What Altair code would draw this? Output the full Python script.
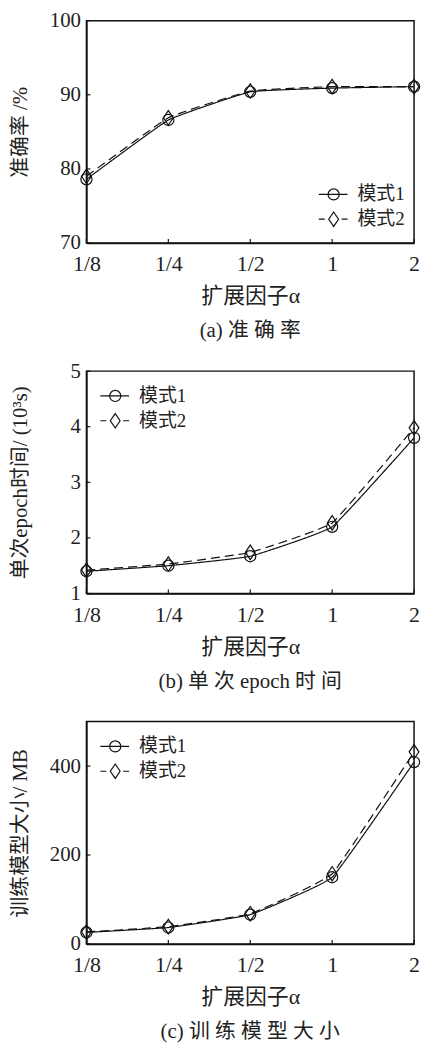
import altair as alt
import pandas as pd

# ---------------- data ----------------
alphas = ["1/8", "1/4", "1/2", "1", "2"]
modes = ["模式1", "模式2"]

acc_m1 = [78.6, 86.6, 90.4, 90.9, 91.1]
acc_m2 = [79.0, 86.9, 90.5, 91.1, 91.1]

time_m1 = [1.40, 1.50, 1.67, 2.20, 3.80]
time_m2 = [1.42, 1.53, 1.74, 2.27, 3.98]

size_m1 = [26, 37, 66, 150, 409]
size_m2 = [27, 39, 68, 158, 432]

# ---------------- style ----------------
SERIF = "Liberation Serif, Noto Sans CJK SC"
W, H = 330, 224
BLACK = "#111111"
TXT = "#222222"
DIAMOND = "M0,-1.3L0.88,0L0,1.3L-0.88,0Z"
MSIZE = 125
LW = 1.2


def panel(m1, m2, ydom, yticks, ytitle, caption, legend_xy, pad_top=False):
    df = pd.DataFrame({
        "alpha": alphas * 2,
        "mode": [modes[0]] * len(alphas) + [modes[1]] * len(alphas),
        "value": list(m1) + list(m2),
    })
    x = alt.X("alpha:O", sort=alphas,
              scale=alt.Scale(type="point", padding=0),
              axis=alt.Axis(title="扩展因子α", labelAngle=0, ticks=False,
                            labelPadding=11, titlePadding=11, titleFontSize=22,
                            labelFontSize=22))
    y = alt.Y("value:Q", scale=alt.Scale(domain=ydom, nice=False, zero=False),
              axis=alt.Axis(title=ytitle, values=yticks, ticks=False, format="d",
                            labelPadding=6, labelFontSize=21, titleFontSize=21,
                            titleX=-66, titleY=H / 2, titleBaseline="middle",
                            titleAlign="center", titleAngle=270))

    base = alt.Chart(df)
    lines = base.mark_line(interpolate="cardinal", tension=0.7, color=BLACK, strokeWidth=LW).encode(
        x=x, y=y,
        strokeDash=alt.StrokeDash("mode:N", scale=alt.Scale(domain=modes, range=[[1, 0], [9, 5]]),
                                  legend=None),
    )
    pts = base.mark_point(filled=False, color=BLACK, size=MSIZE, strokeWidth=LW, opacity=1).encode(
        x=x, y=y,
        shape=alt.Shape("mode:N", scale=alt.Scale(domain=modes, range=["circle", DIAMOND]),
                        legend=None),
    )

    xt = alt.Chart(pd.DataFrame({"alpha": alphas})).mark_rule(color=BLACK, strokeWidth=LW).encode(
        x=alt.X("alpha:O", sort=alphas), y=alt.value(H), y2=alt.value(H - 4))
    yt = alt.Chart(pd.DataFrame({"value": yticks})).mark_rule(color=BLACK, strokeWidth=LW).encode(
        y=alt.Y("value:Q"), x=alt.value(0), x2=alt.value(4))

    one = pd.DataFrame({"k": [0]})
    lx, ly = legend_xy
    leg = []
    for i, (m, shp, dash) in enumerate(zip(modes, ["circle", DIAMOND], [[1, 0], [6, 17]])):
        yy = ly + i * 25
        leg.append(alt.Chart(one).mark_rule(color=BLACK, strokeWidth=LW, strokeDash=dash).encode(
            x=alt.value(lx), x2=alt.value(lx + 29), y=alt.value(yy)))
        leg.append(alt.Chart(one).mark_point(filled=False, color=BLACK, size=MSIZE, strokeWidth=LW,
                                             opacity=1, shape=shp).encode(
            x=alt.value(lx + 15), y=alt.value(yy)))
        leg.append(alt.Chart(one).mark_text(align="left", baseline="middle", font=SERIF,
                                            fontSize=19, color=TXT).encode(
            x=alt.value(lx + 39), y=alt.value(yy), text=alt.value(m)))
    if pad_top:
        # invisible spacer so the top of this panel lines up like the others
        leg.append(alt.Chart(one).mark_text(baseline="middle", fontSize=21, opacity=0).encode(
            x=alt.value(-20), y=alt.value(0), text=alt.value("0")))

    return alt.layer(lines, pts, xt, yt, *leg).properties(
        width=W, height=H,
        title=alt.TitleParams(caption, orient="bottom", anchor="middle", fontSize=21,
                              font=SERIF, fontWeight="normal", color=TXT, offset=14),
    )


pa = panel(acc_m1, acc_m2, [70, 100], [70, 80, 90, 100], "准确率 /%",
           "(a)  准 确 率", (234, 175))
pb = panel(time_m1, time_m2, [1, 5], [1, 2, 3, 4, 5], "单次epoch时间/ (10³s)",
           "(b)  单 次 epoch 时 间", (14, 25))
pc = panel(size_m1, size_m2, [0, 500], [0, 200, 400], "训练模型大小/ MB",
           "(c)  训 练 模 型 大 小", (14, 25), pad_top=True)

chart = alt.vconcat(pa, pb, pc, spacing=17).properties(
    padding={"left": 1, "top": -3, "right": 0, "bottom": -3}
).configure_view(stroke=BLACK, strokeWidth=1.5).configure_axis(
    labelFont=SERIF, titleFont=SERIF,
    labelColor=TXT, titleColor=TXT, titleFontWeight="normal",
    domainColor=BLACK, domainWidth=1.5, grid=False,
)

chart.save("out.html", embed_options={"renderer": "svg", "actions": False})
